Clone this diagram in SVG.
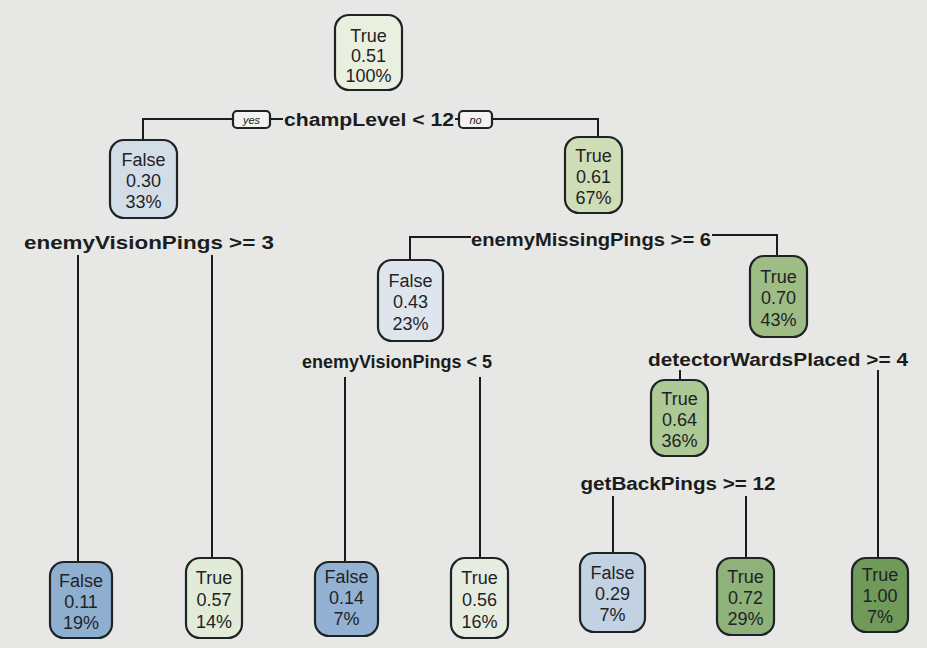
<svg xmlns="http://www.w3.org/2000/svg" width="927" height="648" viewBox="0 0 927 648">
<style>
.bg{fill:#e7e8e5}
.n{stroke:#1e2326;stroke-width:2.2}
.t{font-family:"Liberation Sans",Arial,sans-serif;font-size:18px;fill:#1f2326;text-anchor:middle}
.l{font-family:"Liberation Sans",Arial,sans-serif;font-size:18px;font-weight:bold;fill:#1a1d20;text-anchor:middle}
.yn{font-family:"Liberation Sans",Arial,sans-serif;font-size:11px;font-style:italic;fill:#1a1d20;text-anchor:middle}
.e{fill:none;stroke:#1a1d20;stroke-width:2}
</style>
<rect class="bg" width="927" height="648"/>
<g id="connectors">
<path class="e" d="M143,140 V119 H233 M270,119 H283 M455,119 H459 M492,119 H598 V138"/>
<path class="e" d="M78,255 V562 M212,255 V558"/>
<path class="e" d="M410,260 V237 H471 M712,235 H777 V256"/>
<path class="e" d="M345,377 V562 M480,377 V558"/>
<path class="e" d="M680,370 V380 M878,370 V558"/>
<path class="e" d="M613,496 V553 M746,496 V558"/>
</g>
<g id="yes"><rect x="233" y="111" width="37" height="17" rx="4" fill="#f2f2f0" class="n" stroke-width="1.6"/><text class="yn" x="251.5" y="124">yes</text></g>
<g id="no"><rect x="459" y="111" width="33" height="17" rx="4" fill="#f2f2f0" class="n" stroke-width="1.6"/><text class="yn" x="475.5" y="124">no</text></g>
<g id="labels">
<text class="l" x="369" y="126" textLength="170" lengthAdjust="spacingAndGlyphs">champLevel &lt; 12</text>
<text class="l" x="149" y="249" textLength="250" lengthAdjust="spacingAndGlyphs">enemyVisionPings &gt;= 3</text>
<text class="l" x="591" y="246" textLength="240" lengthAdjust="spacingAndGlyphs">enemyMissingPings &gt;= 6</text>
<text class="l" x="397" y="368" textLength="190" lengthAdjust="spacingAndGlyphs">enemyVisionPings &lt; 5</text>
<text class="l" x="778" y="366" textLength="260" lengthAdjust="spacingAndGlyphs">detectorWardsPlaced &gt;= 4</text>
<text class="l" x="678" y="490" textLength="195" lengthAdjust="spacingAndGlyphs">getBackPings &gt;= 12</text>
</g>
<g id="n1"><rect class="n" x="335" y="15" width="67" height="75" rx="14" fill="#e9f0df"/><text class="t" x="368.5" y="42">True</text><text class="t" x="368.5" y="62">0.51</text><text class="t" x="368.5" y="82">100%</text></g>
<g id="n2"><rect class="n" x="110" y="140" width="67" height="78" rx="14" fill="#d3dde8"/><text class="t" x="143.5" y="166">False</text><text class="t" x="143.5" y="187">0.30</text><text class="t" x="143.5" y="208">33%</text></g>
<g id="n3"><rect class="n" x="565" y="137" width="57" height="76" rx="14" fill="#cfdeb6"/><text class="t" x="593.5" y="162">True</text><text class="t" x="593.5" y="183">0.61</text><text class="t" x="593.5" y="204">67%</text></g>
<g id="n4"><rect class="n" x="378" y="260" width="65" height="81" rx="14" fill="#dee5ed"/><text class="t" x="410.5" y="287">False</text><text class="t" x="410.5" y="308">0.43</text><text class="t" x="410.5" y="330">23%</text></g>
<g id="n5"><rect class="n" x="750" y="256" width="57" height="81" rx="14" fill="#9dbd84"/><text class="t" x="778.5" y="283">True</text><text class="t" x="778.5" y="304">0.70</text><text class="t" x="778.5" y="326">43%</text></g>
<g id="n6"><rect class="n" x="651" y="380" width="57" height="76" rx="14" fill="#acc996"/><text class="t" x="679.5" y="405">True</text><text class="t" x="679.5" y="426">0.64</text><text class="t" x="679.5" y="447">36%</text></g>
<g id="n7"><rect class="n" x="50" y="562" width="62" height="76" rx="14" fill="#8fafd1"/><text class="t" x="81" y="587">False</text><text class="t" x="81" y="608">0.11</text><text class="t" x="81" y="629">19%</text></g>
<g id="n8"><rect class="n" x="186" y="558" width="56" height="80" rx="14" fill="#e2ebd7"/><text class="t" x="214" y="584">True</text><text class="t" x="214" y="606">0.57</text><text class="t" x="214" y="628">14%</text></g>
<g id="n9"><rect class="n" x="315" y="562" width="63" height="74" rx="14" fill="#93b2d3"/><text class="t" x="346.5" y="583">False</text><text class="t" x="346.5" y="604">0.14</text><text class="t" x="346.5" y="625">7%</text></g>
<g id="n10"><rect class="n" x="451" y="558" width="57" height="80" rx="14" fill="#e6ede0"/><text class="t" x="479.5" y="584">True</text><text class="t" x="479.5" y="606">0.56</text><text class="t" x="479.5" y="628">16%</text></g>
<g id="n11"><rect class="n" x="580" y="553" width="65" height="79" rx="14" fill="#c3d2e2"/><text class="t" x="612.5" y="579">False</text><text class="t" x="612.5" y="600">0.29</text><text class="t" x="612.5" y="621">7%</text></g>
<g id="n12"><rect class="n" x="717" y="558" width="57" height="77" rx="14" fill="#8fb27a"/><text class="t" x="745.5" y="583">True</text><text class="t" x="745.5" y="604">0.72</text><text class="t" x="745.5" y="625">29%</text></g>
<g id="n13"><rect class="n" x="852" y="558" width="56" height="74" rx="14" fill="#6f9a5a"/><text class="t" x="880" y="581">True</text><text class="t" x="880" y="602">1.00</text><text class="t" x="880" y="623">7%</text></g>
</svg>
